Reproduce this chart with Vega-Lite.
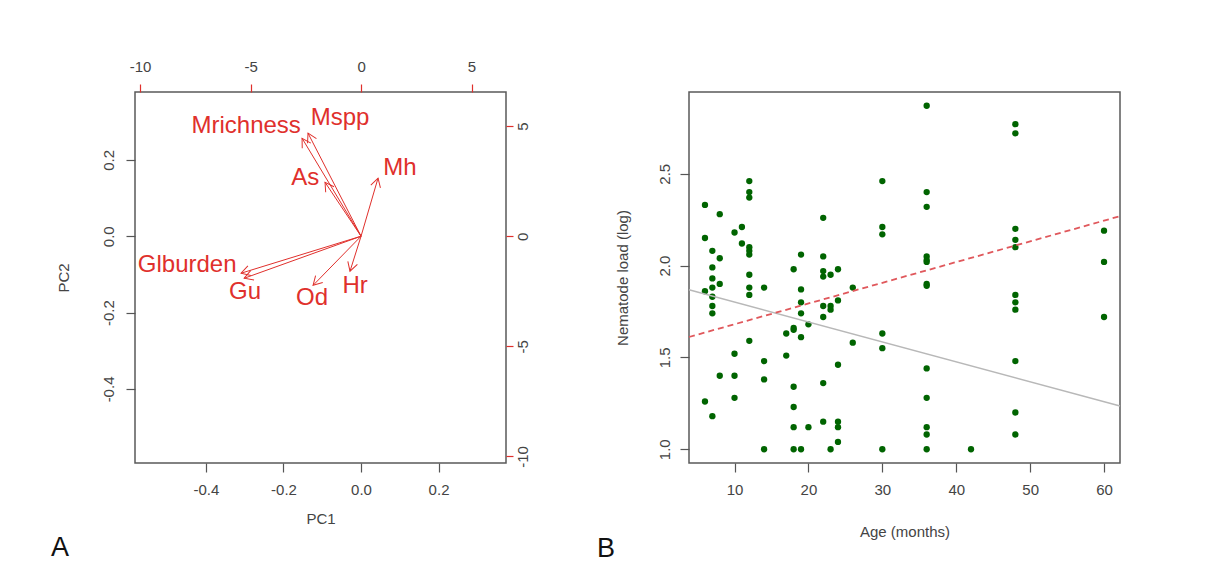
{
  "$schema": "https://vega.github.io/schema/vega-lite/v6.json",
  "background": "white",
  "padding": {"left": 50, "top": 58, "right": 5, "bottom": 5},
  "config": {
    "locale": {"number": {"decimal": ".", "thousands": ",", "grouping": [3], "currency": ["$", ""], "minus": "-"}},
    "view": {"stroke": "#5a5a5a", "strokeWidth": 1.5},
    "axis": {"grid": false, "domain": false, "tickColor": "#555555", "tickSize": 9, "tickWidth": 1.2, "labelFont": "Liberation Sans", "labelFontSize": 15, "labelColor": "#444444", "labelPadding": 10, "titleFont": "Liberation Sans", "titleFontSize": 15, "titleFontWeight": "normal", "titleColor": "#444444"},
    "title": {"font": "Liberation Sans", "fontSize": 27, "fontWeight": "normal", "color": "#111111", "orient": "bottom", "anchor": "start", "frame": "group"}
  },
  "datasets": {
    "origin": [{"PC1": 0, "PC2": 0}],
    "loadings": [
      {"variable": "Mrichness", "x": -2.67, "y": 4.45, "lx": -5.2, "ly": 5.0},
      {"variable": "Mspp", "x": -2.4, "y": 4.68, "lx": -0.95, "ly": 5.36},
      {"variable": "As", "x": -1.63, "y": 2.45, "lx": -2.53, "ly": 2.64},
      {"variable": "Mh", "x": 0.77, "y": 2.64, "lx": 1.76, "ly": 3.09},
      {"variable": "Glburden", "x": -5.43, "y": -1.68, "lx": -7.87, "ly": -1.32},
      {"variable": "Gu", "x": -5.29, "y": -1.91, "lx": -5.25, "ly": -2.55},
      {"variable": "Od", "x": -2.17, "y": -2.23, "lx": -2.22, "ly": -2.82},
      {"variable": "Hr", "x": -0.5, "y": -1.59, "lx": -0.27, "ly": -2.27}
    ],
    "nematodes": [
      {"Age": 6, "load": 2.33}, {"Age": 6, "load": 2.15}, {"Age": 6, "load": 1.86}, {"Age": 6, "load": 1.26},
      {"Age": 7, "load": 2.08}, {"Age": 7, "load": 1.99}, {"Age": 7, "load": 1.93}, {"Age": 7, "load": 1.88}, {"Age": 7, "load": 1.83}, {"Age": 7, "load": 1.78}, {"Age": 7, "load": 1.74}, {"Age": 7, "load": 1.18},
      {"Age": 8, "load": 2.28}, {"Age": 8, "load": 2.04}, {"Age": 8, "load": 1.9}, {"Age": 8, "load": 1.4},
      {"Age": 10, "load": 2.18}, {"Age": 10, "load": 1.52}, {"Age": 10, "load": 1.4}, {"Age": 10, "load": 1.28},
      {"Age": 11, "load": 2.21}, {"Age": 11, "load": 2.12},
      {"Age": 12, "load": 2.46}, {"Age": 12, "load": 2.4}, {"Age": 12, "load": 2.37}, {"Age": 12, "load": 2.1}, {"Age": 12, "load": 2.08}, {"Age": 12, "load": 2.06}, {"Age": 12, "load": 1.95}, {"Age": 12, "load": 1.88}, {"Age": 12, "load": 1.84}, {"Age": 12, "load": 1.59},
      {"Age": 14, "load": 1.88}, {"Age": 14, "load": 1.48}, {"Age": 14, "load": 1.38}, {"Age": 14, "load": 1.0},
      {"Age": 17, "load": 1.63}, {"Age": 17, "load": 1.51},
      {"Age": 18, "load": 1.98}, {"Age": 18, "load": 1.66}, {"Age": 18, "load": 1.65}, {"Age": 18, "load": 1.34}, {"Age": 18, "load": 1.23}, {"Age": 18, "load": 1.12}, {"Age": 18, "load": 1.0},
      {"Age": 19, "load": 2.06}, {"Age": 19, "load": 1.87}, {"Age": 19, "load": 1.8}, {"Age": 19, "load": 1.74}, {"Age": 19, "load": 1.61}, {"Age": 19, "load": 1.0},
      {"Age": 20, "load": 1.68}, {"Age": 20, "load": 1.12},
      {"Age": 22, "load": 2.26}, {"Age": 22, "load": 2.05}, {"Age": 22, "load": 1.97}, {"Age": 22, "load": 1.94}, {"Age": 22, "load": 1.78}, {"Age": 22, "load": 1.72}, {"Age": 22, "load": 1.36}, {"Age": 22, "load": 1.15},
      {"Age": 23, "load": 1.95}, {"Age": 23, "load": 1.78}, {"Age": 23, "load": 1.76}, {"Age": 23, "load": 1.0},
      {"Age": 24, "load": 1.98}, {"Age": 24, "load": 1.81}, {"Age": 24, "load": 1.46}, {"Age": 24, "load": 1.15}, {"Age": 24, "load": 1.12}, {"Age": 24, "load": 1.04},
      {"Age": 26, "load": 1.88}, {"Age": 26, "load": 1.58},
      {"Age": 30, "load": 2.46}, {"Age": 30, "load": 2.21}, {"Age": 30, "load": 2.17}, {"Age": 30, "load": 1.63}, {"Age": 30, "load": 1.55}, {"Age": 30, "load": 1.0},
      {"Age": 36, "load": 2.87}, {"Age": 36, "load": 2.4}, {"Age": 36, "load": 2.32}, {"Age": 36, "load": 2.05}, {"Age": 36, "load": 2.03}, {"Age": 36, "load": 2.02}, {"Age": 36, "load": 1.9}, {"Age": 36, "load": 1.89}, {"Age": 36, "load": 1.44}, {"Age": 36, "load": 1.28}, {"Age": 36, "load": 1.12}, {"Age": 36, "load": 1.08}, {"Age": 36, "load": 1.0},
      {"Age": 42, "load": 1.0},
      {"Age": 48, "load": 2.77}, {"Age": 48, "load": 2.72}, {"Age": 48, "load": 2.2}, {"Age": 48, "load": 2.14}, {"Age": 48, "load": 2.1}, {"Age": 48, "load": 1.84}, {"Age": 48, "load": 1.8}, {"Age": 48, "load": 1.76}, {"Age": 48, "load": 1.48}, {"Age": 48, "load": 1.2}, {"Age": 48, "load": 1.08},
      {"Age": 60, "load": 2.19}, {"Age": 60, "load": 2.02}, {"Age": 60, "load": 1.72}
    ],
    "trendGray": [{"Age": 3.84, "load": 1.868}, {"Age": 62.16, "load": 1.235}],
    "trendRed": [{"Age": 3.84, "load": 1.611}, {"Age": 62.16, "load": 2.269}]
  },
  "spacing": 65,
  "hconcat": [
    {
      "width": 371,
      "height": 371,
      "title": {"text": "A", "dx": -84, "offset": 9},
      "resolve": {"scale": {"x": "independent", "y": "independent"}, "axis": {"x": "independent", "y": "independent"}},
      "layer": [
        {
          "data": {"name": "origin"},
          "mark": {"type": "point", "opacity": 0},
          "encoding": {
            "x": {"field": "PC1", "type": "quantitative", "scale": {"domain": [-0.583, 0.374], "nice": false, "zero": false},
                  "axis": {"orient": "bottom", "values": [-0.4, -0.2, 0, 0.2], "format": ".1f", "title": "PC1", "titlePadding": 14}},
            "y": {"field": "PC2", "type": "quantitative", "scale": {"domain": [-0.594, 0.378], "nice": false, "zero": false},
                  "axis": {"orient": "left", "values": [-0.4, -0.2, 0, 0.2], "format": ".1f", "labelAngle": 270, "labelAlign": "center", "labelBaseline": "bottom", "title": "PC2", "titlePadding": 30}}
          }
        },
        {
          "data": {"name": "loadings"},
          "mark": {"type": "rule", "color": "#e0302c", "strokeWidth": 1},
          "encoding": {
            "x": {"field": "x", "type": "quantitative", "scale": {"domain": [-10.23, 6.56], "nice": false, "zero": false},
                  "axis": {"orient": "top", "values": [-10, -5, 0, 5], "tickColor": "#e0302c", "tickSize": 8, "title": null}},
            "y": {"field": "y", "type": "quantitative", "scale": {"domain": [-10.3, 6.55], "nice": false, "zero": false},
                  "axis": {"orient": "right", "values": [-10, -5, 0, 5], "tickColor": "#e0302c", "tickSize": 7, "labelPadding": 2, "labelAngle": 270, "labelAlign": "center", "labelBaseline": "top", "title": null}},
            "x2": {"datum": 0},
            "y2": {"datum": 0}
          }
        },
        {
          "data": {"name": "loadings"},
          "transform": [{"calculate": "atan2(datum.x, datum.y) * 180 / PI", "as": "heading"}],
          "mark": {"type": "point", "shape": "M -0.5 0.87 L 0 0 L 0.5 0.87", "size": 400, "filled": false, "color": "#e0302c", "strokeWidth": 1, "opacity": 1},
          "encoding": {
            "x": {"field": "x", "type": "quantitative", "scale": {"domain": [-10.23, 6.56], "nice": false, "zero": false}, "axis": null},
            "y": {"field": "y", "type": "quantitative", "scale": {"domain": [-10.3, 6.55], "nice": false, "zero": false}, "axis": null},
            "angle": {"field": "heading", "type": "quantitative", "scale": null}
          }
        },
        {
          "data": {"name": "loadings"},
          "mark": {"type": "text", "font": "Liberation Sans", "fontSize": 24, "color": "#e0302c"},
          "encoding": {
            "x": {"field": "lx", "type": "quantitative", "scale": {"domain": [-10.23, 6.56], "nice": false, "zero": false}, "axis": null},
            "y": {"field": "ly", "type": "quantitative", "scale": {"domain": [-10.3, 6.55], "nice": false, "zero": false}, "axis": null},
            "text": {"field": "variable"}
          }
        }
      ]
    },
    {
      "width": 431,
      "height": 371,
      "title": {"text": "B", "dx": -92, "offset": -3},
      "layer": [
        {
          "data": {"name": "nematodes"},
          "mark": {"type": "circle", "color": "#006400", "size": 40, "opacity": 1},
          "encoding": {
            "x": {"field": "Age", "type": "quantitative", "scale": {"domain": [3.84, 62.16], "nice": false, "zero": false},
                  "axis": {"values": [10, 20, 30, 40, 50, 60], "title": "Age (months)", "titlePadding": 27}},
            "y": {"field": "load", "type": "quantitative", "scale": {"domain": [0.925, 2.945], "nice": false, "zero": false},
                  "axis": {"values": [1, 1.5, 2, 2.5], "format": ".1f", "labelAngle": 270, "labelAlign": "center", "labelBaseline": "bottom", "labelPadding": 8, "title": "Nematode load (log)", "titlePadding": 27}}
          }
        },
        {
          "data": {"name": "trendGray"},
          "mark": {"type": "line", "color": "#b8b8b8", "strokeWidth": 1.5},
          "encoding": {
            "x": {"field": "Age", "type": "quantitative"},
            "y": {"field": "load", "type": "quantitative"}
          }
        },
        {
          "data": {"name": "trendRed"},
          "mark": {"type": "line", "color": "#e0585c", "strokeWidth": 1.8, "strokeDash": [6, 4]},
          "encoding": {
            "x": {"field": "Age", "type": "quantitative"},
            "y": {"field": "load", "type": "quantitative"}
          }
        }
      ]
    }
  ]
}
